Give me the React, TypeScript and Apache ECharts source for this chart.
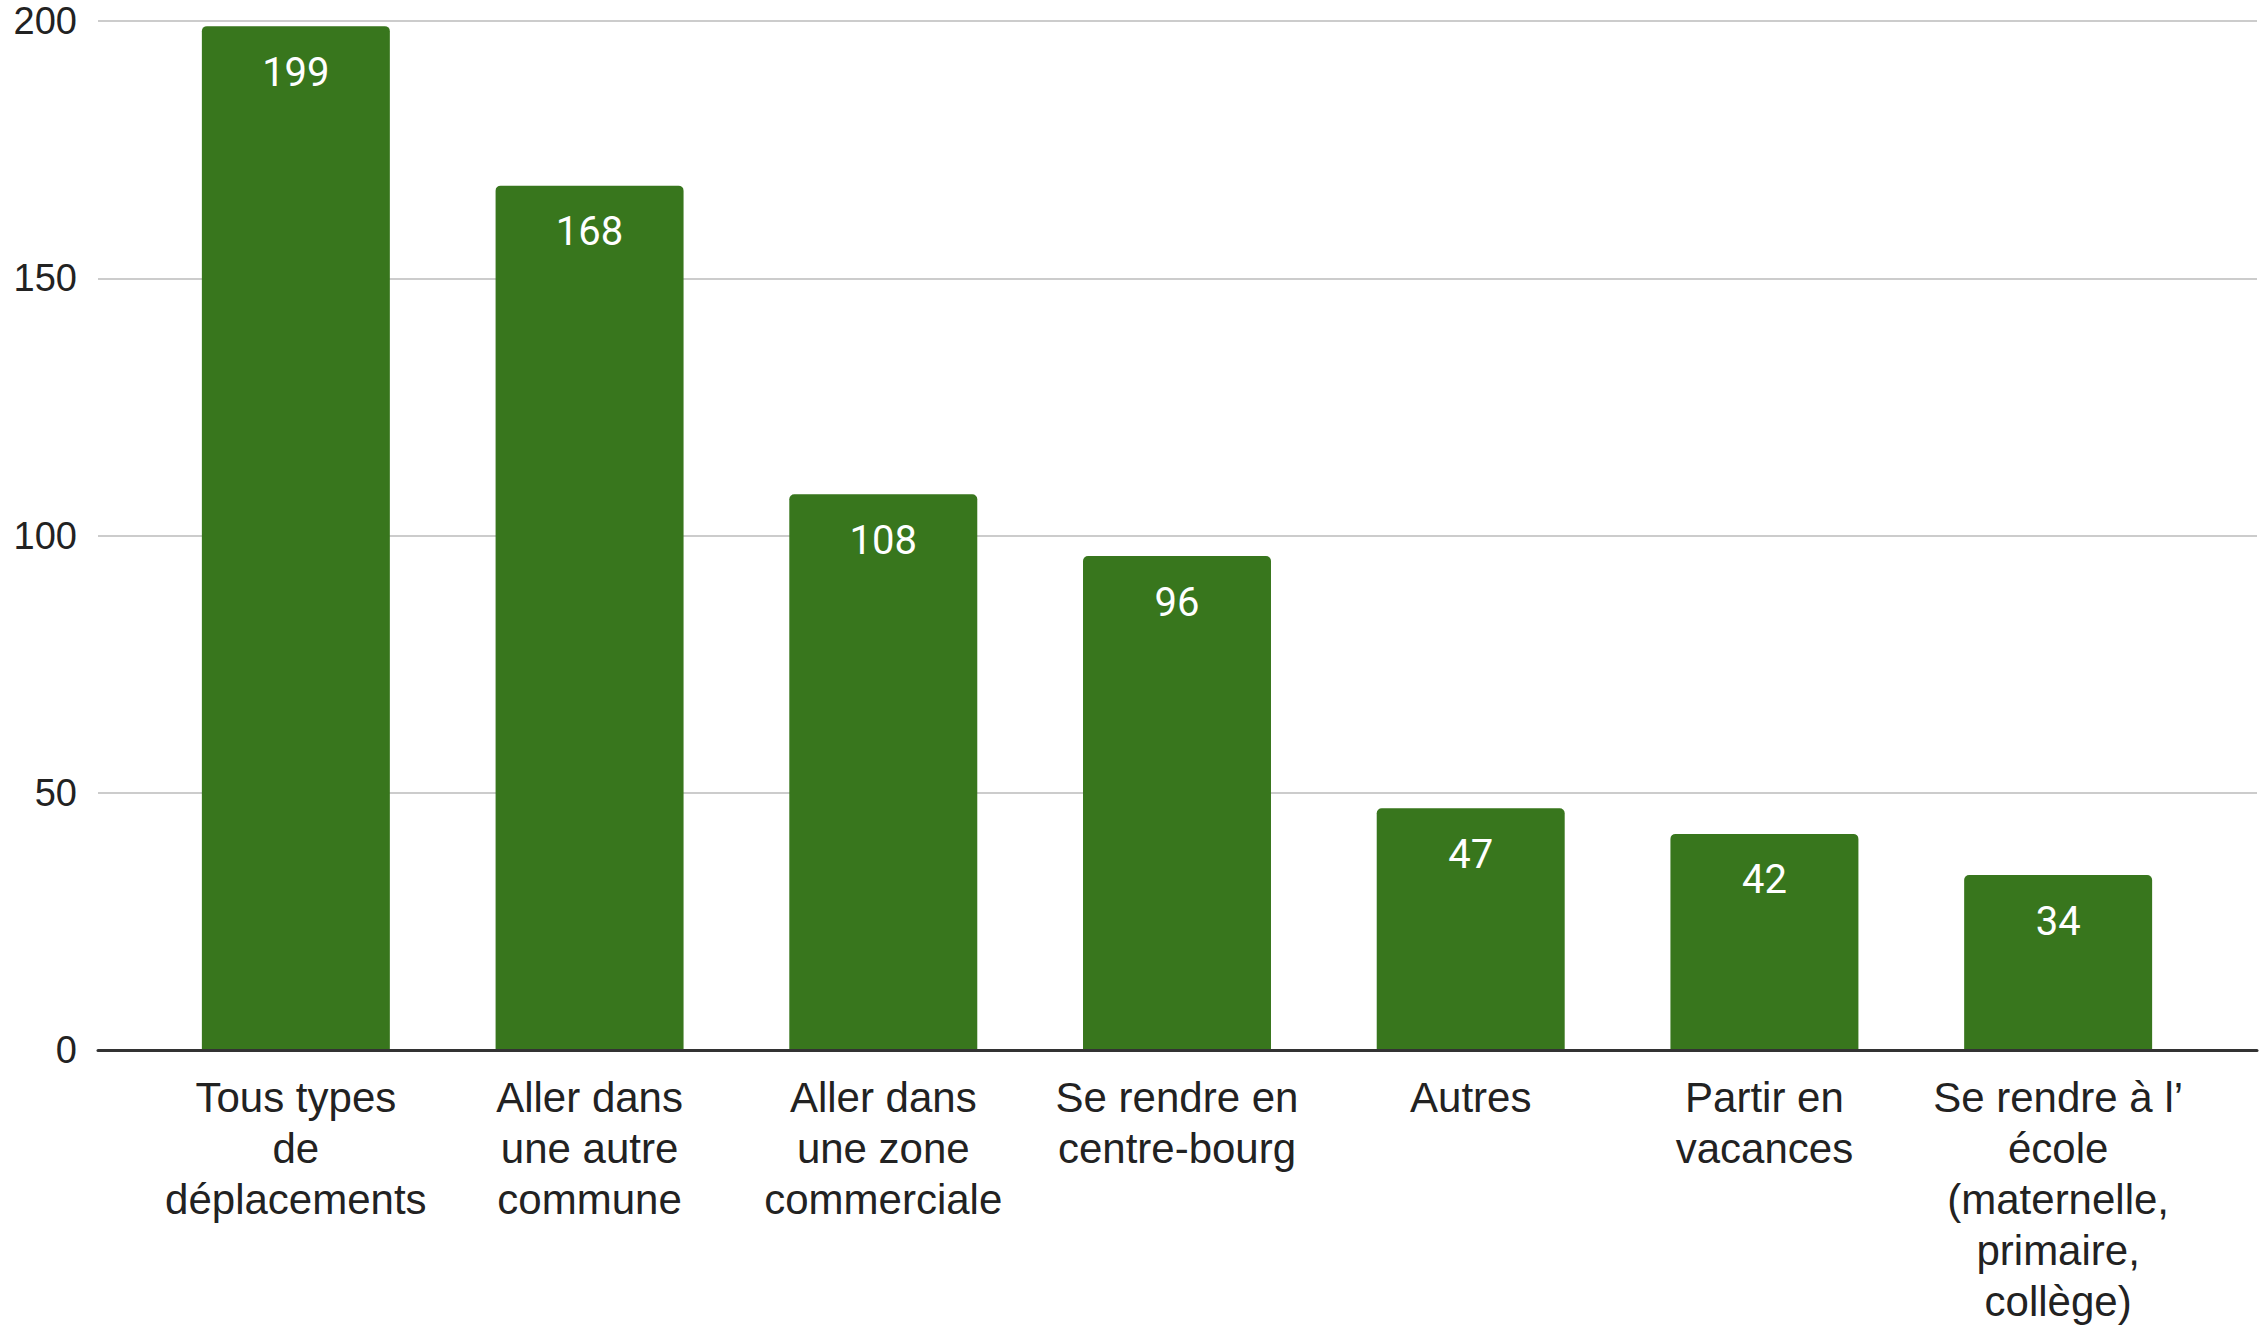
import React, { useEffect, useRef } from "react";
import * as echarts from "echarts";

const categories: string[] = [
  "Tous types\nde\ndéplacements",
  "Aller dans\nune autre\ncommune",
  "Aller dans\nune zone\ncommerciale",
  "Se rendre en\ncentre-bourg",
  "Autres",
  "Partir en\nvacances",
  "Se rendre à l’\nécole\n(maternelle,\nprimaire,\ncollège)",
];
const values: number[] = [199, 168, 108, 96, 47, 42, 34];
const yMin = 0;
const yMax = 200;
const yInterval = 50;

export default function App() {
  const ref = useRef<HTMLDivElement>(null);
  useEffect(() => {
    document.body.style.margin = "0";
    if (!ref.current) return;
    const chart = echarts.init(ref.current, null, { renderer: "svg" });
    chart.setOption({
      animation: false,
      backgroundColor: "#ffffff",
      grid: [
        { left: 98, right: 2, top: 21, height: 1029 },
        { left: 149, right: 54, top: 21, height: 1029 },
      ],
      xAxis: [
        {
          gridIndex: 0,
          type: "value",
          min: 0,
          max: 1,
          axisLabel: { show: false },
          axisTick: { show: false },
          splitLine: { show: false },
          axisLine: { show: true, onZero: false, lineStyle: { color: "#333333", width: 3 } },
          z: 5,
        },
        {
          gridIndex: 1,
          type: "category",
          data: categories,
          axisLine: { show: false },
          axisTick: { show: false },
          axisLabel: {
            interval: 0,
            margin: 22,
            color: "#222222",
            fontFamily: "Liberation Sans, Arial, sans-serif",
            fontSize: 42,
            lineHeight: 51,
            align: "center",
          },
        },
      ],
      yAxis: [
        {
          gridIndex: 0,
          type: "value",
          min: yMin,
          max: yMax,
          interval: yInterval,
          axisLine: { show: false },
          axisTick: { show: false },
          axisLabel: {
            margin: 21,
            color: "#222222",
            fontFamily: "Liberation Sans, Arial, sans-serif",
            fontSize: 38,
          },
          splitLine: { show: true, lineStyle: { color: "#cccccc", width: 2 } },
        },
        {
          gridIndex: 1,
          type: "value",
          min: yMin,
          max: yMax,
          interval: yInterval,
          show: false,
          splitLine: { show: false },
        },
      ],
      series: [
        {
          type: "bar",
          xAxisIndex: 1,
          yAxisIndex: 1,
          data: values,
          barWidth: "64%",
          itemStyle: { color: "#38761d", borderRadius: [5, 5, 0, 0] },
          label: {
            show: true,
            position: "insideTop",
            distance: 26,
            color: "#ffffff",
            fontFamily: "Roboto, sans-serif",
            fontSize: 40,
          },
        },
      ],
    });
    return () => chart.dispose();
  }, []);
  return <div ref={ref} style={{ width: 2259, height: 1330 }} />;
}
